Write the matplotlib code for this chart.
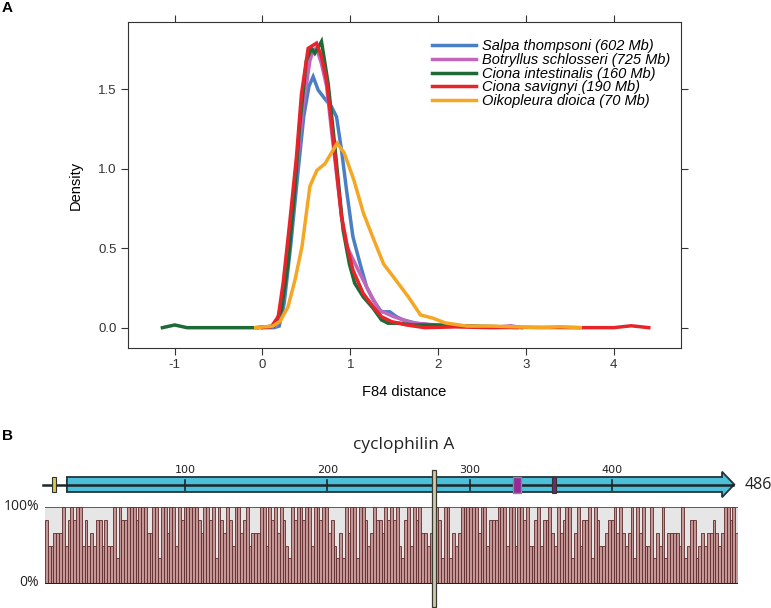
import matplotlib
matplotlib.use("Agg")
import matplotlib.pyplot as plt
from matplotlib.patches import Rectangle, Polygon
from matplotlib.font_manager import FontProperties

plt.rcParams['font.family'] = ['Liberation Sans', 'DejaVu Sans']
plt.rcParams['axes.unicode_minus'] = False

# ---------------- Panel A data (density curves) -------------
series_names = ["Salpa thompsoni (602 Mb)", "Botryllus schlosseri (725 Mb)",
                "Ciona intestinalis (160 Mb)", "Ciona savignyi (190 Mb)",
                "Oikopleura dioica (70 Mb)"]
series_colors = ["#4a7fc4", "#c266bd", "#1d6a36", "#e6252b", "#f5a623"]

salpa_x = [0.0, 0.13, 0.19, 0.246, 0.32, 0.395, 0.47, 0.53, 0.577, 0.634, 0.71, 0.786, 0.843,
           0.90, 0.957, 1.03, 1.11, 1.185, 1.26, 1.355, 1.45, 1.526, 1.60, 1.75, 1.94, 2.2,
           2.45, 2.7, 2.9]
salpa_y = [0.0, 0.0, 0.01, 0.15, 0.51, 0.93, 1.33, 1.52, 1.579, 1.495, 1.44, 1.39, 1.327,
           1.117, 0.866, 0.572, 0.405, 0.258, 0.174, 0.10, 0.10, 0.069, 0.049, 0.028, 0.017,
           0.012, 0.01, 0.006, 0.0]

botryllus_x = [0.0, 0.15, 0.235, 0.31, 0.387, 0.463, 0.54, 0.577, 0.615, 0.672, 0.73, 0.786,
               0.843, 0.90, 0.97, 1.11, 1.22, 1.33, 1.49, 1.60, 1.71, 1.9, 2.1, 2.3, 2.5,
               2.7, 2.83, 2.95]
botryllus_y = [0.0, 0.01, 0.19, 0.57, 0.99, 1.39, 1.68, 1.746, 1.76, 1.66, 1.52, 1.24,
               0.97, 0.70, 0.50, 0.34, 0.22, 0.11, 0.07, 0.05, 0.03, 0.02, 0.015, 0.01,
               0.005, 0.005, 0.012, 0.0]

intestinalis_x = [-1.14, -1.0, -0.86, -0.5, -0.08, 0.13, 0.216, 0.29, 0.368, 0.425, 0.50,
                  0.558, 0.596, 0.672, 0.748, 0.805, 0.862, 0.918, 0.99, 1.05, 1.146,
                  1.26, 1.355, 1.43, 1.56, 1.71, 1.94, 2.2, 2.44]
intestinalis_y = [0.0, 0.017, 0.0, 0.0, 0.0, 0.01, 0.11, 0.40, 0.866, 1.285, 1.68, 1.757,
                  1.726, 1.80, 1.535, 1.243, 0.93, 0.615, 0.40, 0.28, 0.195, 0.122, 0.049,
                  0.028, 0.028, 0.017, 0.017, 0.01, 0.008]

savignyi_x = [-0.05, 0.10, 0.18, 0.235, 0.31, 0.387, 0.444, 0.52, 0.615, 0.672, 0.729,
              0.786, 0.843, 0.90, 0.957, 1.03, 1.146, 1.26, 1.355, 1.47, 1.64, 1.85, 2.2,
              2.6, 3.0, 3.6, 4.0, 4.2, 4.4]
savignyi_y = [0.0, 0.006, 0.07, 0.28, 0.66, 1.075, 1.47, 1.757, 1.79, 1.705, 1.558, 1.285,
              0.992, 0.698, 0.53, 0.363, 0.216, 0.133, 0.069, 0.038, 0.017, 0.0, 0.005,
              0.0, 0.002, 0.0, 0.0, 0.012, 0.0]

dioica_x = [-0.078, 0.118, 0.20, 0.29, 0.37, 0.45, 0.54, 0.62, 0.71, 0.85, 0.93, 1.04,
            1.15, 1.27, 1.38, 1.49, 1.66, 1.80, 1.94, 2.08, 2.33, 2.61, 3.17, 3.39, 3.62]
dioica_y = [0.0, 0.01, 0.04, 0.13, 0.30, 0.51, 0.89, 0.99, 1.03, 1.16, 1.10, 0.93, 0.72,
            0.55, 0.40, 0.32, 0.195, 0.08, 0.06, 0.03, 0.01, 0.01, 0.0, 0.006, 0.0]

curves_x = [salpa_x, botryllus_x, intestinalis_x, savignyi_x, dioica_x]
curves_y = [salpa_y, botryllus_y, intestinalis_y, savignyi_y, dioica_y]

x_ticks = [-1, 0, 1, 2, 3, 4]
y_ticks = [0.0, 0.5, 1.0, 1.5]
y_tick_labels = ["0.0", "0.5", "1.0", "1.5"]

# ---------------- Panel B data -------------
gene_name = "cyclophilin A"
gene_length = 486
cds_start = 17
ruler_ticks = [100, 200, 300, 400]
marker_yellow = (6.5, 9.1)
marker_purple1 = (330.7, 335.9)
marker_purple2 = (357.9, 360.7)
marker_grey = (273.6, 276.4)
# identity per alignment column (in sixths, 6 = 100%)
identity_sixths = [
    5,3,3,4,4,4,6,3,5,6,5,6,6,3,5,3,4,3,5,5,3,5,3,3,6,2,6,5,5,6,6,6,5,6,6,
    6,4,4,6,6,2,6,6,4,6,6,3,6,5,6,6,6,6,6,5,4,6,6,5,6,2,6,5,4,6,5,3,6,6,4,
    5,6,3,4,4,4,6,6,3,6,5,6,4,6,5,3,2,6,5,6,6,5,6,6,3,6,6,5,6,6,4,5,3,2,4,
    2,6,4,6,6,2,6,6,5,3,4,6,5,5,4,6,5,6,5,6,3,2,5,6,3,6,5,6,4,4,3,4,5,6,5,
    2,6,6,2,4,3,4,6,6,6,6,6,6,4,6,6,3,5,5,5,6,6,6,3,6,6,3,6,6,5,6,3,3,5,6,
    3,5,5,6,4,3,6,4,5,6,6,2,4,6,3,5,5,6,2,6,5,3,3,4,5,5,6,4,6,4,3,4,6,2,6,
    4,6,3,3,6,2,4,3,6,2,4,4,4,4,3,6,2,3,5,5,2,3,4,3,4,4,5,4,3,4,6,6,5,6,4,
]

W, H = 771, 608
fig = plt.figure(figsize=(W / 100, H / 100), dpi=100)


def fx(px):
    return px / W


def fy(py):
    return 1 - py / H


# ================= Panel A =================
axA = fig.add_axes([fx(128), fy(347.7), 553 / W, 325.7 / H])
lines = []
for xs, ys, c, name in zip(curves_x, curves_y, series_colors, series_names):
    ln, = axA.plot(xs, ys, color=c, lw=2.5, label=name, solid_joinstyle='miter')
    lines.append(ln)
axA.set_xlim(-1.532, 4.767)
axA.set_ylim(-0.126, 1.923)
axA.set_xticks(x_ticks)
axA.set_xticklabels([str(t) for t in x_ticks])
axA.set_yticks(y_ticks)
axA.set_yticklabels(y_tick_labels)
axA.tick_params(direction='out', length=5, width=0.8, colors='#333333',
                top=True, right=True, labeltop=False, labelright=False,
                labelsize=9.5, pad=3)
for s in axA.spines.values():
    s.set_linewidth(0.8)
    s.set_color('#333333')
axA.legend(handles=lines, loc='upper left', bbox_to_anchor=(0.55, 0.947),
           frameon=False, prop=FontProperties(family='Liberation Sans', style='italic', size=10.5),
           handlelength=3.0, handletextpad=0.4, labelspacing=-0.02,
           borderpad=0, borderaxespad=0)
fig.text(fx(76), fy(185), "Density", rotation=90, ha='center', va='center', fontsize=10.5)
fig.text(fx(404), fy(392), "F84 distance", ha='center', va='center', fontsize=10.5)
fig.text(fx(2), fy(8), "A", ha='left', va='center', fontsize=11, fontweight='bold')
fig.text(fx(2), fy(436), "B", ha='left', va='center', fontsize=11, fontweight='bold')

# ================= Panel B : identity bars =================
n = len(identity_sixths)
axB = fig.add_axes([fx(45), fy(584), 693 / W, 77 / H])
axB.set_facecolor('#e6e6e6')
axB.bar([i + 0.5 for i in range(n)], [v * 100 / 6 for v in identity_sixths], width=1.0,
        color='#c49696', edgecolor='#5e2b2b', linewidth=0.6, zorder=2)
axB.axhline(100, color='#444444', lw=1.2, zorder=3)
axB.axhline(0, color='#222222', lw=2.2, zorder=3)
axB.set_xlim(0, n)
axB.set_ylim(0, 100)
axB.axis('off')
axB.add_patch(Rectangle((0, 0), n, 100, facecolor='#e6e6e6', edgecolor='none', zorder=0))

fig.text(fx(39), fy(507), "100%", ha='right', va='center', fontsize=10, family='Open Sans',
         color='#222222')
fig.text(fx(39), fy(582), "0%", ha='right', va='center', fontsize=10, family='Open Sans',
         color='#222222')

# ================= Panel B : gene track (x = alignment position, y = pixel rows) ==========
axT = fig.add_axes([0, 0, 1, 188 / H])
axT.set_xlim(-42.7 / 1.423, (W - 42.7) / 1.423)
axT.set_ylim(608, 420)
axT.patch.set_alpha(0)
axT.axis('off')

head_base = 477.4
arrow = Polygon([(cds_start, 477), (head_base, 477), (head_base, 471.7), (gene_length, 484.5),
                 (head_base, 497.3), (head_base, 492), (cds_start, 492)], closed=True,
                facecolor='#4dbfd9', edgecolor='#23343b', lw=1.3, zorder=2)
axT.add_patch(arrow)
axT.plot([0, gene_length - 1], [484.6, 484.6], color='#1c2628', lw=1.8, zorder=3)
axT.add_patch(Rectangle((marker_yellow[0], 477.3), marker_yellow[1] - marker_yellow[0], 14.4,
                        facecolor='#d8c84c', edgecolor='#333333', lw=0.8, zorder=4))
for t in ruler_ticks:
    axT.plot([t, t], [480, 490], color='#1c2628', lw=1.2, zorder=4)
    axT.text(t, 470, str(t), ha='center', va='center', fontsize=8, family='DejaVu Sans',
             color='#222222')
axT.add_patch(Rectangle((marker_purple1[0], 477.3), marker_purple1[1] - marker_purple1[0], 15.4,
                        facecolor='#97299b', edgecolor='#8a8a8a', lw=1.0, zorder=5))
axT.add_patch(Rectangle((marker_purple2[0], 477.3), marker_purple2[1] - marker_purple2[0], 15.4,
                        facecolor='#6e2a70', edgecolor='#333333', lw=0.8, zorder=5))
axT.add_patch(Rectangle((marker_grey[0], 470), marker_grey[1] - marker_grey[0], 137,
                        facecolor='#cfcbb0', edgecolor='#3a3a30', lw=0.9, zorder=6))
axT.text(493.5, 485, str(gene_length), ha='left', va='center', fontsize=11.5,
         family='Open Sans', color='#222222')
axT.text(253.9, 445, gene_name, ha='center', va='center', fontsize=12.5,
         family='Open Sans', color='#222222')

fig.savefig("out.png", dpi=100)
